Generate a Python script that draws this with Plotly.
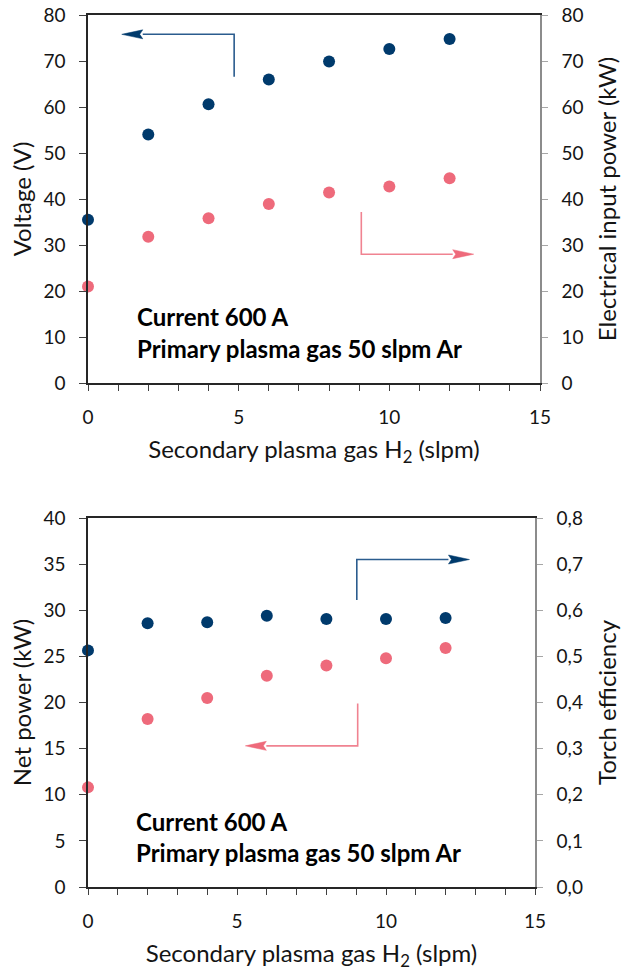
import plotly.graph_objects as go

# ---------------- data ----------------
h2_flow = [0, 2, 4, 6, 8, 10, 12]
voltage = [35.5, 54.0, 60.6, 66.0, 69.9, 72.6, 74.8]
input_power = [21.0, 31.8, 35.8, 38.9, 41.4, 42.7, 44.5]
net_power = [10.8, 18.2, 20.5, 22.9, 24.0, 24.8, 25.9]
efficiency = [0.513, 0.572, 0.574, 0.588, 0.581, 0.581, 0.583]

x_ticks = [0, 5, 10, 15]
top_y_ticks = [0, 10, 20, 30, 40, 50, 60, 70, 80]
bot_y_ticks = [0, 5, 10, 15, 20, 25, 30, 35, 40]
eff_ticks = [0.0, 0.1, 0.2, 0.3, 0.4, 0.5, 0.6, 0.7, 0.8]

note_lines = ["Current 600 A", "Primary plasma gas 50 slpm Ar"]
x_title = "Secondary plasma gas H<sub>2</sub> (slpm)"

NAVY = "#003a6c"
PINK = "#ee6a7b"
NAVY_LINE = "#2b5c8e"
PINK_LINE = "#f08391"
FONT = "Lato"
W, H = 621, 971

fig = go.Figure()

# top panel
fig.add_trace(go.Scatter(x=h2_flow, y=voltage, mode="markers", xaxis="x", yaxis="y",
                         marker=dict(color=NAVY, size=12), cliponaxis=False, showlegend=False))
fig.add_trace(go.Scatter(x=h2_flow, y=input_power, mode="markers", xaxis="x", yaxis="y2",
                         marker=dict(color=PINK, size=12), cliponaxis=False, showlegend=False))
# bottom panel
fig.add_trace(go.Scatter(x=h2_flow, y=efficiency, mode="markers", xaxis="x2", yaxis="y4",
                         marker=dict(color=NAVY, size=12), cliponaxis=False, showlegend=False))
fig.add_trace(go.Scatter(x=h2_flow, y=net_power, mode="markers", xaxis="x2", yaxis="y3",
                         marker=dict(color=PINK, size=12), cliponaxis=False, showlegend=False))

tickfont = dict(family=FONT, size=19, color="#141414")
titlefont = dict(family=FONT, size=24, color="#141414")

top_dom_x = [88 / W, 540 / W]
top_dom_y = [1 - 383 / H, 1 - 15 / H]
bot_dom_x = [88 / W, 535 / W]
bot_dom_y = [1 - 887 / H, 1 - 518 / H]


def xaxis(domain, anchor):
    return dict(domain=domain, anchor=anchor, range=[0, 15], tickvals=x_ticks,
                ticks="outside", ticklen=6, tickcolor="#404040", tickwidth=1,
                minor=dict(dtick=1, ticks="outside", ticklen=6, tickcolor="#404040"),
                showline=True, linecolor="#262626", linewidth=1.5, mirror=True,
                showgrid=False, zeroline=False, tickfont=tickfont, automargin=False,
                ticklabelstandoff=10,
                title=dict(text=x_title, font=titlefont, standoff=15))


def yleft(domain, anchor, rng, tv, title):
    return dict(domain=domain, anchor=anchor, range=rng, tickvals=tv,
                ticks="outside", ticklen=7, tickcolor="#404040",
                showline=True, linecolor="#262626", linewidth=1.5,
                showgrid=False, zeroline=False, tickfont=tickfont, automargin=False,
                ticklabelstandoff=10,
                title=dict(text=title, font=titlefont, standoff=5))


def yright(anchor, overlay, rng, tv, title, fmt=None):
    d = dict(anchor=anchor, overlaying=overlay, side="right", range=rng, tickvals=tv,
             ticks="outside", ticklen=6, tickcolor="#a6a6a6",
             showline=True, linecolor="#8c8c8c", linewidth=1.5,
             showgrid=False, zeroline=False, tickfont=tickfont, automargin=False,
             ticklabelstandoff=10,
             title=dict(text=title, font=titlefont, standoff=18))
    if fmt:
        d["tickformat"] = fmt
    return d


fig.update_layout(
    width=W, height=H, margin=dict(l=0, r=0, t=0, b=0),
    paper_bgcolor="white", plot_bgcolor="white", separators=", ",
    font=dict(family=FONT),
    xaxis=xaxis(top_dom_x, "y"),
    yaxis=yleft(top_dom_y, "x", [0, 80], top_y_ticks, "Voltage (V)"),
    yaxis2=yright("x", "y", [0, 80], top_y_ticks, "Electrical input power (kW)"),
    xaxis2=xaxis(bot_dom_x, "y3"),
    yaxis3=yleft(bot_dom_y, "x2", [0, 40], bot_y_ticks, "Net power (kW)"),
    yaxis4=yright("x2", "y3", [0, 0.8], eff_ticks, "Torch efficiency", fmt=".1f"),
)

# notes
for xr, yr, ys in (("x", "y", (14.4, 7.5)), ("x2", "y3", (7.15, 3.72))):
    for line, yv in zip(note_lines, ys):
        fig.add_annotation(x=1.55, y=yv, xref=xr, yref=yr, text=f"<b>{line}</b>",
                           showarrow=False, xanchor="left", yanchor="middle",
                           font=dict(family=FONT, size=24, color="black"))

# elbow arrows: (xref, yref, start, corner, tip, line colour, head colour, px->data scale)
top_sx, top_sy = 15 / 452, 80 / 368
bot_sx, bot_sy = 15 / 447, 40 / 369
arrows = [
    ("x", "y", (4.85, 66.6), (4.85, 75.8), (1.12, 75.8), NAVY_LINE, NAVY, top_sx, top_sy),
    ("x", "y", (9.07, 37.2), (9.07, 28.0), (12.8, 28.0), PINK_LINE, PINK, top_sx, top_sy),
    ("x2", "y3", (9.02, 31.1), (9.02, 35.5), (12.8, 35.5), NAVY_LINE, NAVY, bot_sx, bot_sy),
    ("x2", "y3", (9.05, 19.9), (9.05, 15.3), (5.28, 15.3), PINK_LINE, PINK, bot_sx, bot_sy),
]
HEAD_LEN, HEAD_HALF = 21, 4.5
for xr, yr, s, c, t, lc, hc, sx, sy in arrows:
    direction = 1 if t[0] > c[0] else -1
    base_x = t[0] - direction * HEAD_LEN * sx
    fig.add_shape(type="path", xref=xr, yref=yr,
                  path=f"M{s[0]},{s[1]} L{c[0]},{c[1]} L{base_x},{t[1]}",
                  line=dict(color=lc, width=1.6))
    fig.add_shape(type="path", xref=xr, yref=yr,
                  path=(f"M{t[0]},{t[1]} L{base_x},{t[1] + HEAD_HALF * sy} "
                        f"L{base_x + direction * 3 * sx},{t[1]} L{base_x},{t[1] - HEAD_HALF * sy} Z"),
                  fillcolor=hc, line=dict(color=hc, width=0.5))

fig.write_html("out.html", config={"displayModeBar": False},
               post_script="document.body.style.margin='0';document.body.style.overflow='hidden';")
